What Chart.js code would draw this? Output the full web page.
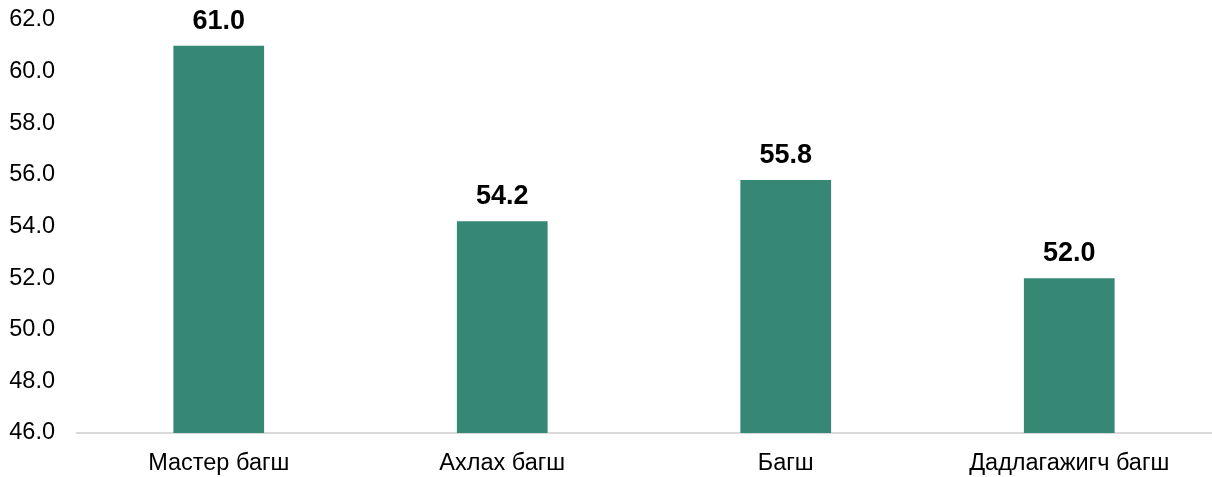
<!DOCTYPE html>
<html lang="mn">
<head>
    <meta charset="UTF-8">
    <title>Багшийн ангилал</title>
    <script src="https://cdn.jsdelivr.net/npm/chart.js"></script>
    <style>
        html, body { margin: 0; padding: 0; background: #fff; }
        #wrap { width: 1212px; height: 477px; }
    </style>
</head>
<body>
    <div id="wrap"><canvas id="teacherChart"></canvas></div>

    <script>
        const categories = ['Мастер багш', 'Ахлах багш', 'Багш', 'Дадлагажигч багш'];
        const scores = [61.0, 54.2, 55.8, 52.0];
        const yMin = 46;
        const yMax = 62;
        const yStep = 2;

        const FONT = '"Liberation Sans", Arial, sans-serif';

        // value labels above the bars
        const valueLabels = {
            id: 'valueLabels',
            afterDatasetsDraw(chart) {
                const ctx = chart.ctx;
                const meta = chart.getDatasetMeta(0);
                ctx.save();
                ctx.font = 'bold 27px ' + FONT;
                ctx.fillStyle = '#000';
                ctx.textAlign = 'center';
                ctx.textBaseline = 'alphabetic';
                meta.data.forEach((bar, i) => {
                    ctx.fillText(scores[i].toFixed(1), bar.x, bar.y - 17);
                });
                ctx.restore();
            }
        };

        new Chart(document.getElementById('teacherChart'), {
            type: 'bar',
            data: {
                labels: categories,
                datasets: [{
                    data: scores,
                    backgroundColor: '#378775',
                    barPercentage: 0.32,
                    categoryPercentage: 1.0
                }]
            },
            options: {
                responsive: true,
                maintainAspectRatio: false,
                animation: false,
                layout: { padding: { top: 20, right: 1, left: 0, bottom: 0 } },
                plugins: {
                    legend: { display: false },
                    tooltip: { enabled: false }
                },
                scales: {
                    x: {
                        grid: { display: false, drawTicks: false },
                        border: { display: true, color: '#d9d9d9', width: 2 },
                        afterFit(axis) { axis.height = 44; },
                        ticks: {
                            padding: 16,
                            color: '#000',
                            font: { family: FONT, size: 23.5 }
                        }
                    },
                    y: {
                        min: yMin,
                        max: yMax,
                        grid: { display: false, drawTicks: false },
                        border: { display: false },
                        afterFit(axis) {
                            axis.width = 77;
                            axis.paddingTop = 0;
                            axis.paddingBottom = 0;
                        },
                        ticks: {
                            stepSize: yStep,
                            padding: 22,
                            color: '#000',
                            font: { family: FONT, size: 23.5 },
                            callback: v => Number(v).toFixed(1)
                        }
                    }
                }
            },
            plugins: [valueLabels]
        });
    </script>
</body>
</html>
